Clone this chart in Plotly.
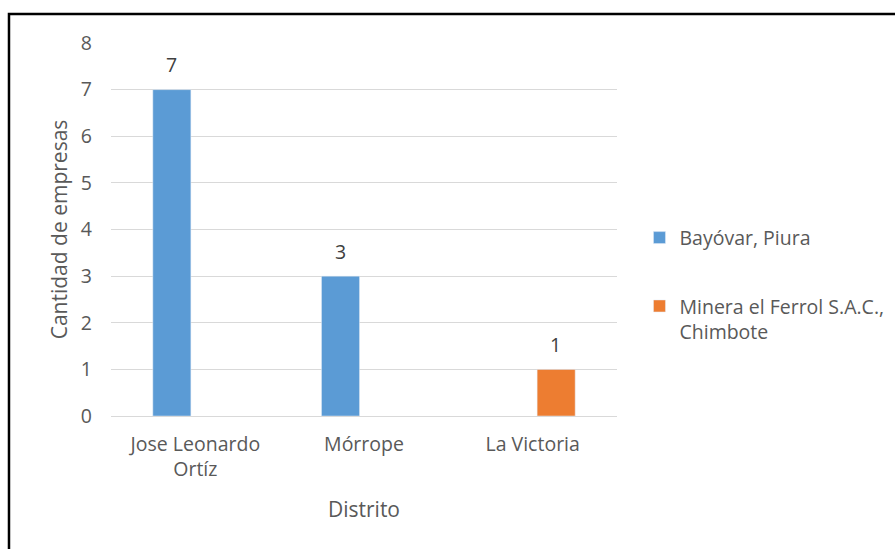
import plotly.graph_objects as go

distritos = ["Jose Leonardo<br>Ortíz", "Mórrope", "La Victoria"]
bayovar = [7, 3, None]
minera = [None, None, 1]

serie_bayovar = "Bayóvar, Piura"
serie_minera = "Minera el Ferrol S.A.C.,<br>Chimbote"
y_ticks = [0, 1, 2, 3, 4, 5, 6, 7, 8]

FONT = "Open Sans"
GRAY = "#595959"
TXT = 19.5
TITLE = 21

fig = go.Figure()
fig.add_trace(go.Bar(
    x=distritos, y=bayovar, name=serie_bayovar, legendgroup="a",
    marker_color="#5B9BD5",
))
fig.add_trace(go.Bar(
    x=distritos, y=minera, name=serie_minera, legendgroup="b",
    marker_color="#ED7D31",
))

# value labels above each bar, offset to its slot within the group
for series, shift in ((bayovar, -24), (minera, 23)):
    for cat, val in zip(distritos, series):
        if val is None:
            continue
        fig.add_annotation(
            x=cat, y=val, text=str(val), showarrow=False,
            xshift=shift, yshift=25, yanchor="middle",
            font=dict(family=FONT, size=TXT, color="#404040"),
        )

fig.update_layout(
    width=895, height=549,
    margin=dict(l=111, r=278, t=43, b=133, autoexpand=False),
    paper_bgcolor="white", plot_bgcolor="white",
    barmode="group", bargap=0.443, bargroupgap=0.19,
    font=dict(family=FONT, size=TXT, color=GRAY),
    showlegend=True,
    legend=dict(
        xref="container", yref="container",
        x=0.7145, y=0.481, xanchor="left", yanchor="middle",
        font=dict(family=FONT, size=TXT, color=GRAY),
        tracegroupgap=40, valign="top", itemwidth=30,
    ),
    xaxis=dict(
        showgrid=False, showline=False, ticks="",
        tickfont=dict(family=FONT, size=TXT, color=GRAY),
        ticklabelstandoff=14,
        title=dict(text="Distrito", font=dict(family=FONT, size=TITLE, color=GRAY), standoff=21),
    ),
    yaxis=dict(
        range=[0, 8], tickvals=y_ticks, showgrid=True, gridcolor="#D9D9D9", gridwidth=1,
        zeroline=True, zerolinecolor="#D9D9D9", zerolinewidth=1,
        showline=False, ticks="", ticklen=0,
        tickfont=dict(family=FONT, size=TXT, color=GRAY),
        ticklabelstandoff=18,
        title=dict(text="Cantidad de empresas", font=dict(family=FONT, size=TITLE, color=GRAY), standoff=7),
    ),
    shapes=[dict(
        type="rect", xref="paper", yref="paper",
        x0=-0.2016, x1=1.6, y0=-0.4, y1=1.0777,
        line=dict(color="black", width=2.5), fillcolor="rgba(0,0,0,0)", layer="above",
    )],
)

fig.write_html("out.html")
